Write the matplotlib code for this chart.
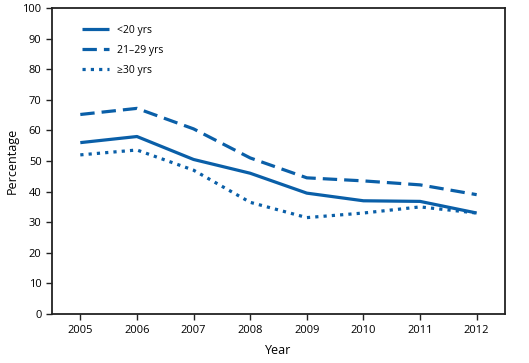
import numpy as np
import matplotlib
matplotlib.use("Agg")
import matplotlib.pyplot as plt

plt.rcParams['font.family'] = ['Open Sans', 'DejaVu Sans']

years = [2005, 2006, 2007, 2008, 2009, 2010, 2011, 2012]
under20 = [56.0, 58.0, 50.5, 46.0, 39.5, 37.0, 36.8, 33.0]
age21_29 = [65.2, 67.2, 60.5, 51.0, 44.5, 43.5, 42.2, 39.0]
over30 = [52.0, 53.6, 47.0, 36.5, 31.5, 33.0, 35.0, 33.0]

color = '#0a5fa8'

fig = plt.figure(figsize=(5.29, 3.63), dpi=100)
ax = fig.add_axes([52 / 529, 49 / 363, 453 / 529, 306 / 363])

ax.plot(years, under20, color=color, lw=2.3, solid_capstyle='butt', label='<20 yrs')
ax.plot(years, age21_29, color=color, lw=2.3, dashes=(4.5, 2.2), label='21–29 yrs')
ax.plot(years, over30, color=color, lw=2.3, dashes=(1.0, 1.6), label='≥30 yrs')

ax.set_xlim(2004.5, 2012.5)
ax.set_ylim(0, 100)
ax.set_xticks(years)
ax.set_yticks(np.arange(0, 101, 10))
ax.tick_params(axis='both', labelsize=8, direction='out', length=4, width=1, color='#222222')
ax.tick_params(axis='x', pad=4)
for s in ax.spines.values():
    s.set_linewidth(1.3)
    s.set_color('#222222')

ax.set_xlabel('Year', fontsize=9, labelpad=6)
ax.set_ylabel('Percentage', fontsize=9, labelpad=3)

leg = ax.legend(loc='upper left', bbox_to_anchor=(0.045, 0.975), frameon=False,
                fontsize=7.5, handlelength=2.6, handletextpad=0.8, labelspacing=0.85)

fig.savefig('out.png', dpi=100)
